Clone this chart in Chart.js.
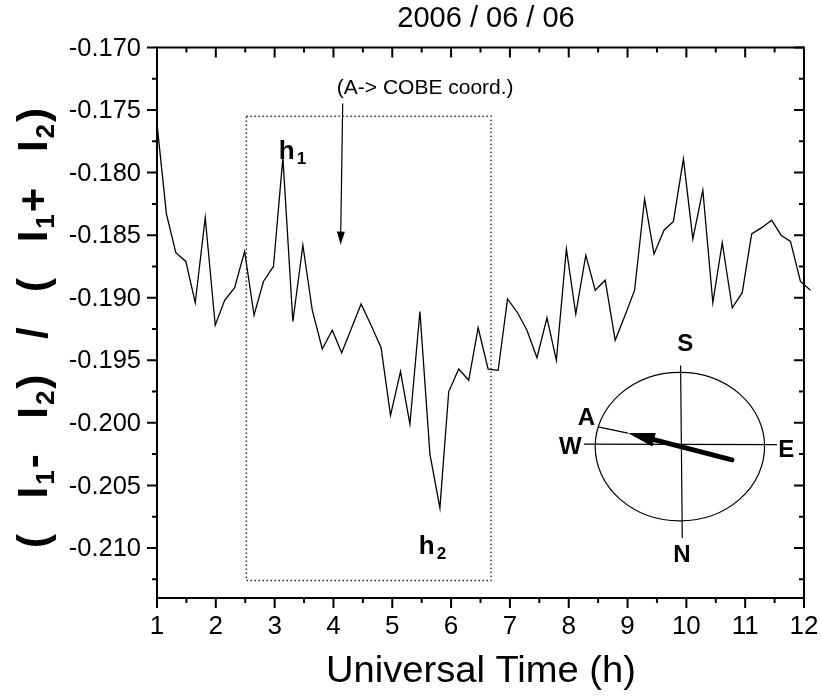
<!DOCTYPE html>
<html>
<head>
<meta charset="utf-8">
<script src="https://cdn.jsdelivr.net/npm/chart.js@4"></script>
<style>
html,body{margin:0;padding:0;background:#fff}
#wrap{width:822px;height:698px}
</style>
</head>
<body>
<div id="wrap"><canvas id="ratioChart" width="822" height="698"></canvas></div>
<script>

// universal time (h), one sample roughly every 10 min
const hours = [1.00,1.16,1.32,1.49,1.65,1.82,1.99,2.15,2.32,2.49,2.65,2.81,2.98,3.14,
3.31,3.48,3.64,3.81,3.98,4.14,4.31,4.47,4.64,4.81,4.97,5.14,5.30,5.47,
5.64,5.81,5.96,6.13,6.30,6.46,6.63,6.80,6.96,7.13,7.29,7.46,7.63,7.79,
7.96,8.12,8.29,8.45,8.62,8.79,8.95,9.12,9.29,9.45,9.62,9.78,9.95,10.11,
10.28,10.45,10.61,10.78,10.95,11.11,11.28,11.45,11.61,11.77,11.94,12.11]

// (I1 - I2) / (I1 + I2)
const ratio = [-0.1761,-0.1833,-0.1864,-0.1871,-0.1904,-0.1836,-0.1922,-0.1902,-0.1892,-0.1863,-0.1914,-0.1887,-0.1875,-0.1788,
-0.1919,-0.1858,-0.1910,-0.1941,-0.1926,-0.1944,-0.1924,-0.1905,-0.1922,-0.1940,-0.1994,-0.1959,-0.2001,-0.1911,
-0.2025,-0.2068,-0.1975,-0.1957,-0.1966,-0.1924,-0.1957,-0.1958,-0.1901,-0.1912,-0.1926,-0.1948,-0.1916,-0.1950,
-0.1861,-0.1913,-0.1866,-0.1894,-0.1886,-0.1934,-0.1915,-0.1894,-0.1821,-0.1865,-0.1846,-0.1839,-0.1789,-0.1853,
-0.1814,-0.1904,-0.1856,-0.1908,-0.1896,-0.1849,-0.1844,-0.1838,-0.1850,-0.1855,-0.1887,-0.1894]

const xTicks = [1,2,3,4,5,6,7,8,9,10,11,12]
const yTicks = [-0.170,-0.175,-0.180,-0.185,-0.190,-0.195,-0.200,-0.205,-0.210]

// window h1/h2 (time range, ratio range)
const boxHours = [2.52, 6.68]
const boxRatio = [-0.1755, -0.2126]


function stretchText(ctx, str, x, y, font, align, sx){
ctx.save()
ctx.font = font
ctx.textAlign = align
ctx.textBaseline = 'middle'
ctx.translate(x, y)
ctx.scale(sx, 1)
ctx.fillText(str, 0, 0)
ctx.restore()
}

function arrowHead(ctx, x0, y0, x1, y1, len, half){
let a = Math.atan2(y1 - y0, x1 - x0)
ctx.beginPath()
ctx.moveTo(x1, y1)
ctx.lineTo(x1 - len*Math.cos(a) + half*Math.sin(a), y1 - len*Math.sin(a) - half*Math.cos(a))
ctx.lineTo(x1 - len*Math.cos(a) - half*Math.sin(a), y1 - len*Math.sin(a) + half*Math.cos(a))
ctx.closePath()
ctx.fill()
}

// frame with Origin-style ticks, labels and titles
const framePlugin = {
id: 'frame',
afterDatasetsDraw(chart){
const ctx = chart.ctx
const a = chart.chartArea
const xs = chart.scales.x
const ys = chart.scales.y
ctx.save()
ctx.strokeStyle = '#000'
ctx.fillStyle = '#000'
ctx.lineWidth = 2
ctx.strokeRect(a.left, a.top, a.right - a.left, a.bottom - a.top)

ctx.beginPath()
for(let i=0;i<xTicks.length;i++){
let x = xs.getPixelForValue(xTicks[i])
ctx.moveTo(x, a.bottom); ctx.lineTo(x, a.bottom + 10)
ctx.moveTo(x, a.top); ctx.lineTo(x, a.top + 10)
if(i < xTicks.length - 1){
let m = xs.getPixelForValue(xTicks[i] + 0.5)
ctx.moveTo(m, a.bottom); ctx.lineTo(m, a.bottom + 5)
ctx.moveTo(m, a.top); ctx.lineTo(m, a.top + 5)
}
}
for(let i=0;i<yTicks.length;i++){
let y = ys.getPixelForValue(yTicks[i])
ctx.moveTo(a.left - 10, y); ctx.lineTo(a.left, y)
ctx.moveTo(a.right - 10, y); ctx.lineTo(a.right, y)
let m = ys.getPixelForValue(yTicks[i] - 0.0025)
ctx.moveTo(a.left - 5, m); ctx.lineTo(a.left, m)
ctx.moveTo(a.right - 5, m); ctx.lineTo(a.right, m)
}
ctx.stroke()

for(let t of xTicks){
stretchText(ctx, String(t), xs.getPixelForValue(t), a.bottom + 29, '26px "Liberation Sans"', 'center', 1.0)
}
for(let v of yTicks){
stretchText(ctx, v.toFixed(3), a.left - 16, ys.getPixelForValue(v) + 1, '26px "Liberation Sans"', 'right', 0.98)
}

stretchText(ctx, '2006 / 06 / 06', 486, 19, '29px "Liberation Sans"', 'center', 1.0)
stretchText(ctx, 'Universal Time (h)', 481, 672, '37px "Liberation Sans"', 'center', 1.03)

// rotated y title with subscripts, letter-spaced to fill the axis height
let parts = [['(',0],[' ',0],['I',0],['1',1],['-',0],[' ',0],['I',0],['2',1],[')',0],[' ',0],['/',0],[' ',0],
['(',0],[' ',0],['I',0],['1',1],['+',0],[' ',0],['I',0],['2',1],[')',0]]
let big = 'bold 42px "Liberation Sans"'
let small = 'bold 26px "Liberation Sans"'
let track = 2
let total = track * (parts.length - 1), spaces = 0
for(let p of parts){
ctx.font = p[1] ? small : big
total += ctx.measureText(p[0]).width
if(p[0] === ' ') spaces++
}
let extra = (440 - total) / spaces
ctx.save()
ctx.translate(47, 328)
ctx.rotate(-Math.PI/2)
ctx.textBaseline = 'alphabetic'
ctx.textAlign = 'left'
let cx = -220
for(let p of parts){
ctx.font = p[1] ? small : big
ctx.fillText(p[0], cx, p[1] ? 7 : 0)
cx += ctx.measureText(p[0]).width + track + (p[0] === ' ' ? extra : 0)
}
ctx.restore()
ctx.restore()
}
}

// dotted window, h1/h2 marks, COBE arrow and the sky compass
const notesPlugin = {
id: 'notes',
afterDatasetsDraw(chart){
const ctx = chart.ctx
const xs = chart.scales.x
const ys = chart.scales.y
ctx.save()
ctx.strokeStyle = '#000'
ctx.fillStyle = '#000'

let bx0 = xs.getPixelForValue(boxHours[0]), bx1 = xs.getPixelForValue(boxHours[1])
let by0 = ys.getPixelForValue(boxRatio[0]), by1 = ys.getPixelForValue(boxRatio[1])
ctx.setLineDash([1.4, 2.6])
ctx.lineWidth = 1.4
ctx.strokeStyle = '#222'
ctx.strokeRect(bx0, by0, bx1 - bx0, by1 - by0)
ctx.setLineDash([])
ctx.strokeStyle = '#000'

// h1, h2
let hx = xs.getPixelForValue(3.07), hy = ys.getPixelForValue(-0.1789)
ctx.textAlign = 'left'; ctx.textBaseline = 'alphabetic'
ctx.font = 'bold 26px "Liberation Sans"'; ctx.fillText('h', hx, hy)
ctx.font = 'bold 17px "Liberation Sans"'; ctx.fillText('1', hx + 18, hy + 5)
hx = xs.getPixelForValue(5.45); hy = ys.getPixelForValue(-0.2105)
ctx.font = 'bold 26px "Liberation Sans"'; ctx.fillText('h', hx, hy)
ctx.font = 'bold 17px "Liberation Sans"'; ctx.fillText('2', hx + 18, hy + 5)

// COBE note and arrow
ctx.font = '21px "Liberation Sans"'
ctx.textAlign = 'center'; ctx.textBaseline = 'middle'
ctx.fillText('(A-> COBE coord.)', xs.getPixelForValue(5.56), ys.getPixelForValue(-0.17328))
let ax0 = xs.getPixelForValue(4.157), ay0 = ys.getPixelForValue(-0.17448)
let ax1 = xs.getPixelForValue(4.123), ay1 = ys.getPixelForValue(-0.18576)
ctx.lineWidth = 1.2
ctx.beginPath(); ctx.moveTo(ax0, ay0); ctx.lineTo(ax1, ay1 - 8); ctx.stroke()
arrowHead(ctx, ax0, ay0, ax1, ay1, 13, 4)

// compass
let cx = xs.getPixelForValue(9.89), cy = ys.getPixelForValue(-0.2019)
ctx.lineWidth = 1.2
ctx.beginPath(); ctx.ellipse(cx, cy, 84.7, 74.2, 0, 0, Math.PI*2); ctx.stroke()
ctx.beginPath()
ctx.moveTo(cx + 0.7, cy - 81); ctx.lineTo(cx + 2.4, cy + 91.5)
ctx.moveTo(cx - 96, cy - 2.5); ctx.lineTo(cx + 97, cy - 2)
ctx.stroke()
ctx.beginPath(); ctx.moveTo(cx - 82, cy - 19.8); ctx.lineTo(cx - 52, cy - 13.5); ctx.stroke()
ctx.lineWidth = 5
ctx.lineCap = 'round'
ctx.beginPath(); ctx.moveTo(cx + 52, cy + 13.2); ctx.lineTo(cx - 30, cy - 8); ctx.stroke()
arrowHead(ctx, cx + 52, cy + 13.2, cx - 52, cy - 13.5, 27, 7)
ctx.font = 'bold 24px "Liberation Sans"'
ctx.textAlign = 'center'; ctx.textBaseline = 'middle'
ctx.fillText('S', cx + 5.4, cy - 102.5)
ctx.fillText('N', cx + 2, cy + 109)
ctx.fillText('W', cx - 109.6, cy + 1)
ctx.fillText('E', cx + 106.4, cy + 4)
ctx.fillText('A', cx - 93.6, cy - 28)
ctx.restore()
}
}

const ctx = document.getElementById('ratioChart')

new Chart(ctx, {
type: 'line',
data: {
datasets: [{
data: hours.map((h, i) => ({x: h, y: ratio[i]})),
borderColor: '#000',
borderWidth: 1.3,
pointRadius: 0,
tension: 0,
clip: 8
}]
},
options: {
responsive: false,
animation: false,
devicePixelRatio: 1,
layout: {padding: {left: 0, top: 47.5, right: 18, bottom: 0}},
plugins: {legend: {display: false}, tooltip: {enabled: false}},
scales: {
x: {
type: 'linear', min: 1, max: 12,
ticks: {display: false}, grid: {display: false}, border: {display: false},
afterFit(s){ s.height = 100 }
},
y: {
type: 'linear', min: -0.214, max: -0.170,
ticks: {display: false}, grid: {display: false}, border: {display: false},
afterFit(s){ s.width = 157 }
}
}
},
plugins: [framePlugin, notesPlugin]
})

</script>
</body>
</html>
